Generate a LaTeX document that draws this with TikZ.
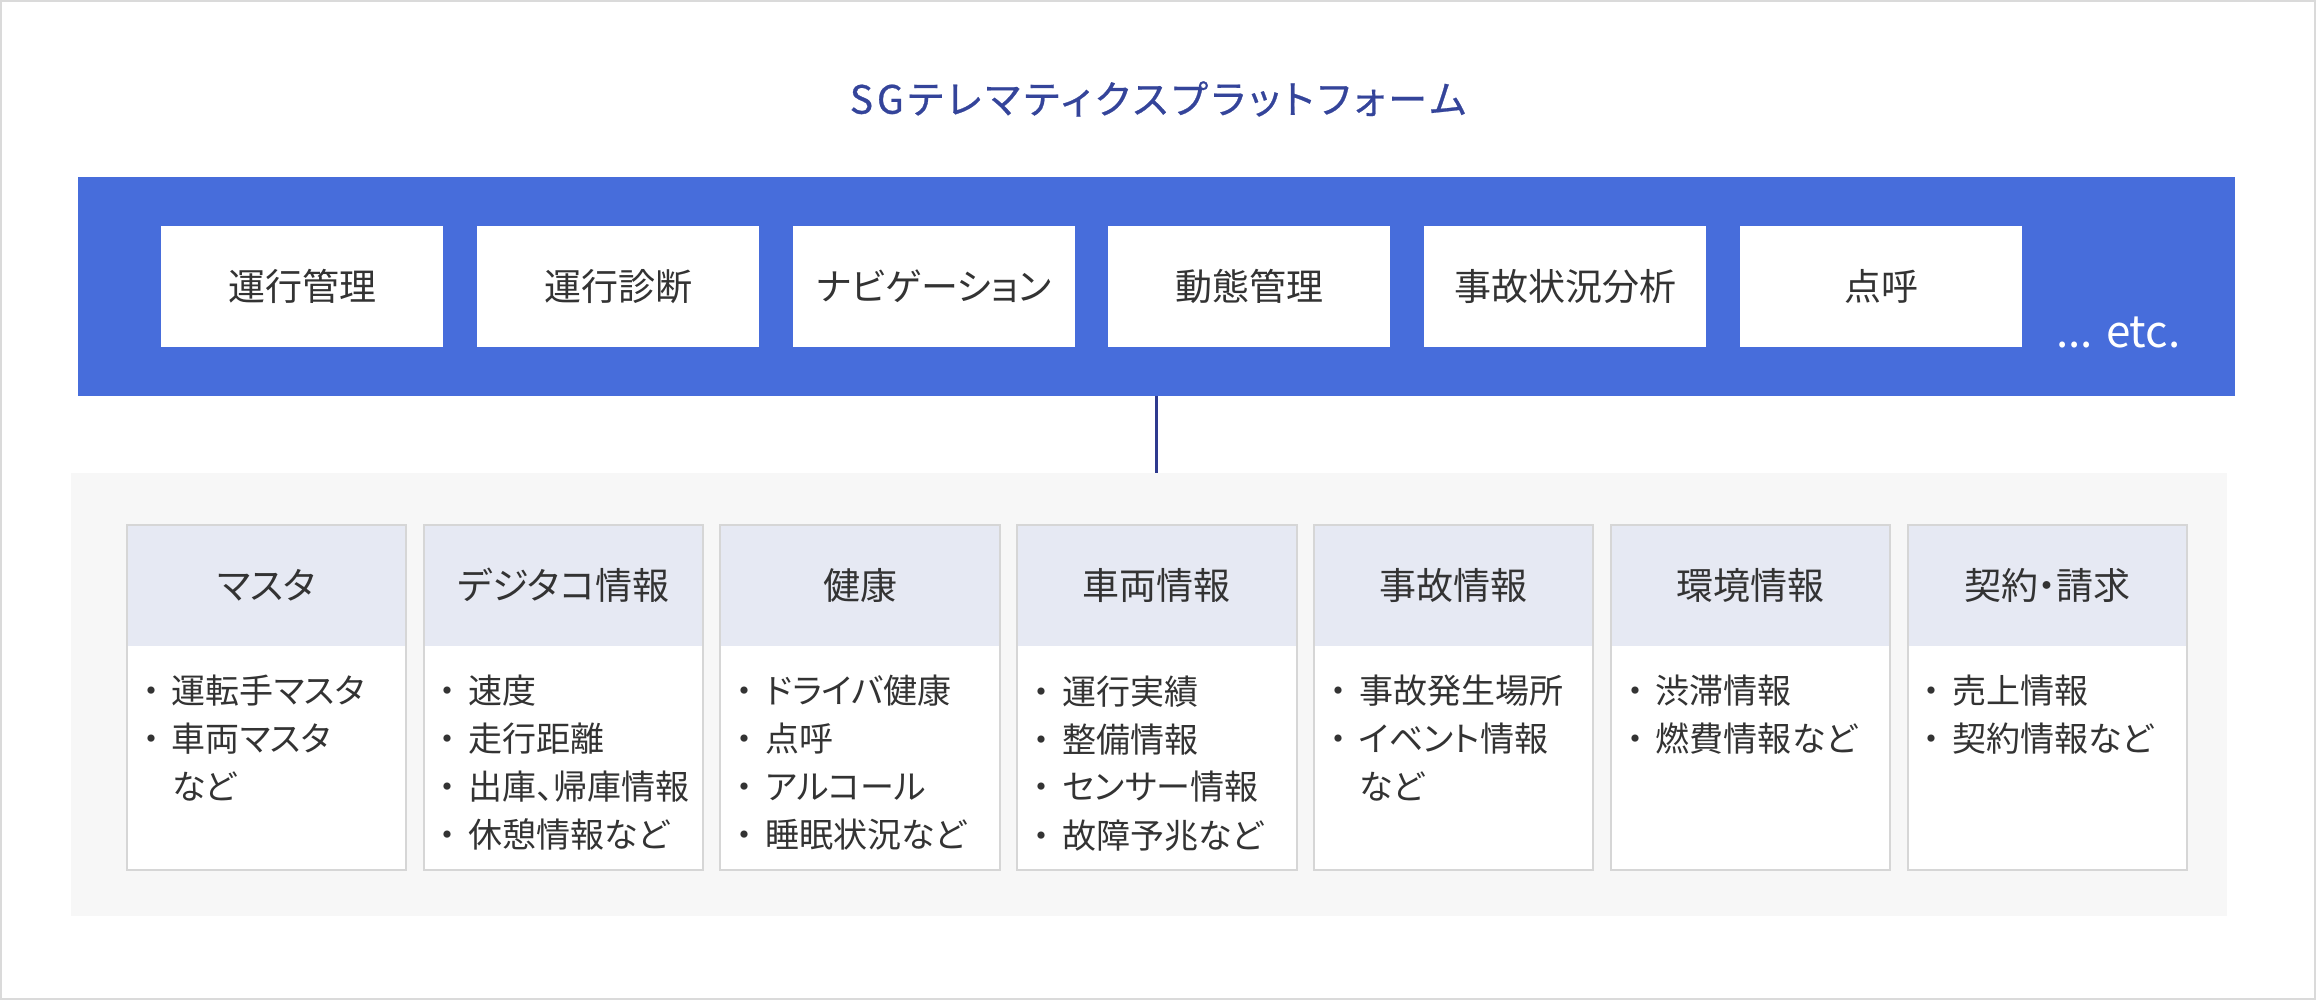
\documentclass[tikz,border=0pt]{standalone}
\usepackage{fontspec}
\setmainfont[RawFeature=+palt]{Noto Sans CJK JP}
\newfontfamily\titlefont[RawFeature=+palt, LetterSpace=10, FakeBold=0.6]{Noto Sans CJK JP}
\usetikzlibrary{positioning}

\definecolor{barblue}{HTML}{476DDB}
\definecolor{titlenavy}{HTML}{34449A}
\definecolor{linenavy}{HTML}{2E3A8E}
\definecolor{inktext}{HTML}{333333}
\definecolor{panelgray}{HTML}{F7F7F7}
\definecolor{headlav}{HTML}{E6E9F3}
\definecolor{edgegray}{HTML}{D6D6D6}
\definecolor{framegray}{HTML}{DADADA}

\newcommand{\itm}{\makebox[34pt][c]{・}\hspace{4pt}}
\newcommand{\itmgap}{\hspace{38pt}}

\tikzset{
  funcbox/.style={fill=white, minimum width=282pt, minimum height=121pt, inner sep=0pt,
    text=inktext, font=\fontsize{37pt}{44pt}\selectfont},
  headbox/.style={fill=headlav, minimum width=279pt, minimum height=121pt, inner sep=0pt,
    text=inktext, font=\fontsize{37pt}{44pt}\selectfont},
  bodybox/.style={fill=white, minimum width=279pt, minimum height=223pt, inner sep=0pt},
  itemlist/.style={anchor=north west, align=left, inner sep=0pt,
    text=inktext, font=\fontsize{34pt}{48pt}\selectfont},
  outline/.style={draw=edgegray, line width=2pt}
}

\begin{document}
\begin{tikzpicture}[x=1pt,y=-1pt]
\useasboundingbox (0,0) rectangle (2316,1000);
\draw[framegray, line width=2pt] (1,1) rectangle (2315,999);

\node[text=titlenavy, font=\titlefont\fontsize{39pt}{44pt}\selectfont] (title) at (1158,99) {SGテレマティクスプラットフォーム};

% platform bar
\node[fill=barblue, minimum width=2157pt, minimum height=219pt, inner sep=0pt] (bar) at (1156.5,286.5) {};
\node[funcbox] (operation) at (302,286.5) {運行管理};
\node[funcbox] (diagnosis) at (618,286.5) {運行診断};
\node[funcbox] (navi) at (934,286.5) {ナビゲーション};
\node[funcbox] (tracking) at (1249,286.5) {動態管理};
\node[funcbox] (analysis) at (1565,286.5) {事故状況分析};
\node[funcbox] (rollcall) at (1881,286.5) {点呼};
\node[anchor=base west, inner sep=0pt, text=white, font=\fontsize{44pt}{50pt}\selectfont] (etc) at (2056,347) {... etc.};

% data panel
\node[fill=panelgray, minimum width=2156pt, minimum height=443pt, inner sep=0pt] (panel) at (1149,694.5) {};
\draw[linenavy, line width=3pt] (bar.south) -- (panel.north -| bar.south);

\node[headbox] (master) at (266.5,585.5) {マスタ};
\node[headbox] (digitaco) at (563.3,585.5) {デジタコ情報};
\node[headbox] (health) at (860.1,585.5) {健康};
\node[headbox] (vehicle) at (1156.9,585.5) {車両情報};
\node[headbox] (accident) at (1453.7,585.5) {事故情報};
\node[headbox] (environ) at (1750.5,585.5) {環境情報};
\node[headbox] (contract) at (2047.3,585.5) {契約・請求};

\node[bodybox, below=0pt of master] (masterbody) {};
\node[bodybox, below=0pt of digitaco] (digitacobody) {};
\node[bodybox, below=0pt of health] (healthbody) {};
\node[bodybox, below=0pt of vehicle] (vehiclebody) {};
\node[bodybox, below=0pt of accident] (accidentbody) {};
\node[bodybox, below=0pt of environ] (environbody) {};
\node[bodybox, below=0pt of contract] (contractbody) {};

\draw[outline] (master.north west) rectangle (masterbody.south east);
\draw[outline] (digitaco.north west) rectangle (digitacobody.south east);
\draw[outline] (health.north west) rectangle (healthbody.south east);
\draw[outline] (vehicle.north west) rectangle (vehiclebody.south east);
\draw[outline] (accident.north west) rectangle (accidentbody.south east);
\draw[outline] (environ.north west) rectangle (environbody.south east);
\draw[outline] (contract.north west) rectangle (contractbody.south east);

\node[itemlist] (masterlist) at ([xshift=7pt,yshift=-29pt]masterbody.north west)
  {\itm 運転手マスタ\\ \itm 車両マスタ\\ \itmgap など};
\node[itemlist] (digitacolist) at ([xshift=7pt,yshift=-29pt]digitacobody.north west)
  {\itm 速度\\ \itm 走行距離\\ \itm 出庫、帰庫情報\\ \itm 休憩情報など};
\node[itemlist] (healthlist) at ([xshift=7pt,yshift=-29pt]healthbody.north west)
  {\itm ドライバ健康\\ \itm 点呼\\ \itm アルコール\\ \itm 睡眠状況など};
\node[itemlist] (vehiclelist) at ([xshift=7pt,yshift=-29pt]vehiclebody.north west)
  {\itm 運行実績\\ \itm 整備情報\\ \itm センサー情報\\ \itm 故障予兆など};
\node[itemlist] (accidentlist) at ([xshift=7pt,yshift=-29pt]accidentbody.north west)
  {\itm 事故発生場所\\ \itm イベント情報\\ \itmgap など};
\node[itemlist] (environlist) at ([xshift=7pt,yshift=-29pt]environbody.north west)
  {\itm 渋滞情報\\ \itm 燃費情報など};
\node[itemlist] (contractlist) at ([xshift=7pt,yshift=-29pt]contractbody.north west)
  {\itm 売上情報\\ \itm 契約情報など};
\end{tikzpicture}
\end{document}
